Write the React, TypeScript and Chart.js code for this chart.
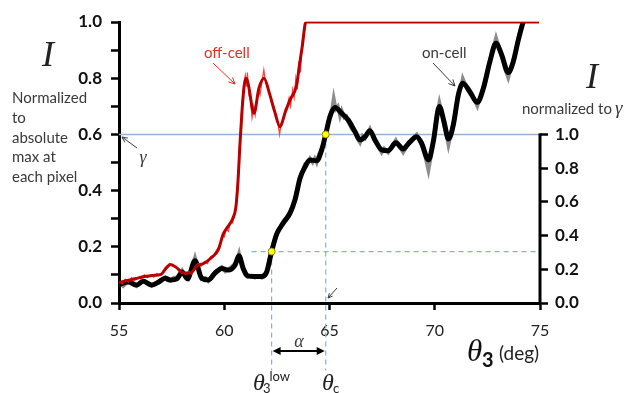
import React, { useEffect, useRef } from 'react';
import { Chart, registerables } from 'chart.js';

Chart.register(...registerables);

// ---- axes ----
const X_MIN = 55;
const X_MAX = 75;
const X_STEP = 5;
const LEFT_MAX = 1.0;
const LEFT_STEP = 0.1;
const GAMMA = 0.6; // threshold, right axis 1.0 == left 0.6
const RIGHT_TICKS = [0, 0.2, 0.4, 0.6, 0.8, 1.0];

// ---- markers ----
const THETA_LOW = 62.25;
const I_LOW = 0.183;
const THETA_C = 64.82;
const DASH_H_START = 61.3;
const DASH_BOTTOM = -0.24;

// ---- on-cell, smoothed (black) ----
const onX = [55.0, 55.44, 55.84, 56.15, 56.55, 56.87, 57.19, 57.45, 57.75, 58.0, 58.25, 58.61, 58.93, 59.24, 59.56, 59.88, 60.19, 60.51, 60.7, 60.9, 61.11, 61.46, 61.78, 62.02, 62.25, 62.49, 62.8, 63.12, 63.36, 63.6, 63.84, 64.07, 64.39, 64.63, 64.82, 65.02, 65.26, 65.58, 65.89, 66.21, 66.45, 66.69, 66.92, 67.16, 67.48, 67.79, 68.15, 68.5, 68.74, 69.14, 69.38, 69.7, 69.93, 70.22, 70.44, 70.65, 70.88, 71.12, 71.33, 71.67, 72.02, 72.31, 72.62, 72.91, 73.18, 73.49, 73.73, 73.97, 74.2, 74.35];
const onY = [0.066, 0.075, 0.064, 0.077, 0.064, 0.074, 0.088, 0.082, 0.086, 0.11, 0.086, 0.15, 0.088, 0.082, 0.106, 0.123, 0.117, 0.135, 0.168, 0.123, 0.097, 0.094, 0.094, 0.111, 0.183, 0.245, 0.284, 0.319, 0.367, 0.444, 0.485, 0.509, 0.506, 0.545, 0.6, 0.663, 0.696, 0.675, 0.651, 0.61, 0.58, 0.592, 0.613, 0.58, 0.545, 0.542, 0.57, 0.548, 0.566, 0.592, 0.568, 0.509, 0.574, 0.699, 0.645, 0.584, 0.633, 0.74, 0.782, 0.752, 0.714, 0.764, 0.859, 0.924, 0.883, 0.82, 0.859, 0.936, 1.0, 1.03];

// ---- on-cell, raw (gray) ----
const onRawX = [55.0, 55.2, 55.44, 55.65, 55.84, 56.0, 56.15, 56.35, 56.55, 56.7, 56.87, 57.05, 57.19, 57.3, 57.45, 57.6, 57.75, 57.9, 58.0, 58.13, 58.3, 58.45, 58.61, 58.75, 58.93, 59.1, 59.24, 59.4, 59.56, 59.7, 59.88, 60.05, 60.19, 60.35, 60.51, 60.6, 60.7, 60.8, 60.9, 61.0, 61.11, 61.3, 61.46, 61.6, 61.78, 61.9, 62.02, 62.12, 62.25, 62.37, 62.49, 62.65, 62.8, 62.95, 63.12, 63.24, 63.36, 63.5, 63.6, 63.72, 63.84, 63.95, 64.07, 64.2, 64.3, 64.39, 64.5, 64.63, 64.72, 64.82, 64.92, 65.02, 65.12, 65.2, 65.3, 65.4, 65.5, 65.58, 65.7, 65.8, 65.89, 66.05, 66.21, 66.33, 66.45, 66.57, 66.69, 66.8, 66.92, 67.05, 67.16, 67.3, 67.48, 67.6, 67.79, 67.95, 68.15, 68.3, 68.5, 68.62, 68.74, 68.9, 69.0, 69.14, 69.25, 69.38, 69.55, 69.7, 69.82, 69.93, 70.08, 70.22, 70.33, 70.44, 70.55, 70.65, 70.77, 70.88, 71.0, 71.12, 71.25, 71.33, 71.5, 71.67, 71.85, 72.02, 72.15, 72.31, 72.45, 72.62, 72.75, 72.91, 73.05, 73.18, 73.35, 73.49, 73.6, 73.73, 73.85, 73.97, 74.1, 74.2, 74.35];
const onRawY = [0.07, 0.06, 0.078, 0.07, 0.06, 0.072, 0.08, 0.07, 0.06, 0.07, 0.077, 0.085, 0.092, 0.08, 0.078, 0.09, 0.092, 0.1, 0.115, 0.095, 0.085, 0.12, 0.162, 0.125, 0.085, 0.09, 0.078, 0.095, 0.11, 0.118, 0.128, 0.112, 0.12, 0.13, 0.14, 0.155, 0.178, 0.14, 0.12, 0.1, 0.092, 0.098, 0.09, 0.097, 0.09, 0.1, 0.115, 0.15, 0.19, 0.22, 0.25, 0.265, 0.29, 0.305, 0.325, 0.345, 0.372, 0.41, 0.45, 0.47, 0.495, 0.5, 0.515, 0.5, 0.515, 0.5, 0.53, 0.55, 0.57, 0.6, 0.64, 0.67, 0.69, 0.73, 0.69, 0.7, 0.665, 0.685, 0.66, 0.665, 0.645, 0.62, 0.605, 0.585, 0.57, 0.595, 0.585, 0.6, 0.62, 0.595, 0.575, 0.56, 0.535, 0.55, 0.535, 0.555, 0.58, 0.56, 0.535, 0.55, 0.572, 0.575, 0.59, 0.6, 0.585, 0.56, 0.52, 0.47, 0.52, 0.58, 0.66, 0.715, 0.68, 0.63, 0.6, 0.56, 0.6, 0.64, 0.69, 0.75, 0.77, 0.8, 0.77, 0.745, 0.73, 0.7, 0.73, 0.77, 0.81, 0.865, 0.9, 0.945, 0.91, 0.875, 0.83, 0.8, 0.83, 0.865, 0.9, 0.945, 0.975, 1.0, 1.03];

// ---- off-cell, smoothed (dark red) ----
const offX = [55.0, 55.4, 55.8, 56.2, 56.6, 57.0, 57.25, 57.45, 57.75, 58.05, 58.4, 58.7, 59.0, 59.4, 59.72, 59.95, 60.2, 60.4, 60.55, 60.65, 60.75, 60.85, 60.95, 61.05, 61.15, 61.41, 61.65, 61.89, 62.15, 62.4, 62.65, 62.9, 63.12, 63.44, 63.56, 63.7, 63.88, 74.95];
const offY = [0.072, 0.08, 0.087, 0.094, 0.098, 0.102, 0.125, 0.137, 0.125, 0.107, 0.107, 0.132, 0.14, 0.162, 0.19, 0.245, 0.275, 0.3, 0.34, 0.43, 0.57, 0.69, 0.775, 0.8, 0.775, 0.675, 0.765, 0.8, 0.745, 0.68, 0.627, 0.68, 0.722, 0.776, 0.84, 0.91, 1.0, 1.0];

// ---- off-cell, raw (bright red) ----
const offRawX = [55.0, 55.15, 55.3, 55.45, 55.6, 55.75, 55.9, 56.05, 56.2, 56.35, 56.5, 56.65, 56.8, 56.95, 57.1, 57.25, 57.4, 57.55, 57.7, 57.85, 58.0, 58.15, 58.3, 58.45, 58.6, 58.75, 58.9, 59.05, 59.2, 59.35, 59.5, 59.65, 59.8, 59.9, 60.0, 60.1, 60.2, 60.3, 60.4, 60.5, 60.58, 60.65, 60.72, 60.8, 60.88, 60.95, 61.0, 61.05, 61.1, 61.17, 61.25, 61.32, 61.4, 61.47, 61.55, 61.62, 61.7, 61.8, 61.88, 61.95, 62.05, 62.15, 62.25, 62.35, 62.45, 62.55, 62.63, 62.7, 62.8, 62.9, 63.0, 63.08, 63.15, 63.25, 63.32, 63.4, 63.47, 63.55, 63.62, 63.7, 63.78, 63.88, 74.95];
const offRawY = [0.075, 0.068, 0.085, 0.075, 0.09, 0.08, 0.092, 0.085, 0.1, 0.09, 0.1, 0.092, 0.105, 0.098, 0.115, 0.13, 0.14, 0.13, 0.128, 0.115, 0.11, 0.102, 0.112, 0.104, 0.125, 0.14, 0.13, 0.145, 0.14, 0.165, 0.17, 0.19, 0.205, 0.24, 0.235, 0.265, 0.255, 0.29, 0.285, 0.32, 0.36, 0.44, 0.55, 0.66, 0.74, 0.79, 0.81, 0.77, 0.82, 0.74, 0.72, 0.66, 0.7, 0.67, 0.73, 0.76, 0.74, 0.79, 0.83, 0.79, 0.775, 0.74, 0.72, 0.7, 0.67, 0.64, 0.6, 0.64, 0.65, 0.69, 0.7, 0.73, 0.7, 0.76, 0.73, 0.8, 0.76, 0.86, 0.82, 0.93, 0.95, 1.0, 1.0];

const pts = (xs: number[], ys: number[]) => xs.map((x, i) => ({ x, y: ys[i] }));

const SANS = 'Lato';
const SERIF = '"Liberation Serif"';

function drawArrow(ctx: CanvasRenderingContext2D, x1: number, y1: number, x2: number, y2: number, color: string, width: number, head: number) {
  const ang = Math.atan2(y2 - y1, x2 - x1);
  ctx.save();
  ctx.strokeStyle = color;
  ctx.lineWidth = width;
  ctx.setLineDash([]);
  ctx.beginPath();
  ctx.moveTo(x1, y1);
  ctx.lineTo(x2, y2);
  ctx.moveTo(x2 - head * Math.cos(ang - 0.45), y2 - head * Math.sin(ang - 0.45));
  ctx.lineTo(x2, y2);
  ctx.lineTo(x2 - head * Math.cos(ang + 0.45), y2 - head * Math.sin(ang + 0.45));
  ctx.stroke();
  ctx.restore();
}

function txt(ctx: CanvasRenderingContext2D, s: string, x: number, y: number, font: string, color: string, align: CanvasTextAlign = 'left', base: CanvasTextBaseline = 'alphabetic') {
  ctx.font = font;
  ctx.fillStyle = color;
  ctx.textAlign = align;
  ctx.textBaseline = base;
  ctx.fillText(s, x, y);
}

const overlay = {
  id: 'overlay',
  beforeDatasetsDraw(chart: any) {
    const { ctx, chartArea: a, scales } = chart;
    const xs = scales.x, ys = scales.y;
    ctx.save();
    // gamma line
    const yg = ys.getPixelForValue(GAMMA);
    ctx.strokeStyle = '#95b3d7';
    ctx.lineWidth = 1.5;
    ctx.beginPath();
    ctx.moveTo(a.left, yg);
    ctx.lineTo(a.right, yg);
    ctx.stroke();
    // dashed guides
    ctx.setLineDash([5, 4]);
    ctx.strokeStyle = '#86aee0';
    ctx.lineWidth = 1.2;
    const yl = ys.getPixelForValue(I_LOW);
    const yb = ys.getPixelForValue(DASH_BOTTOM);
    const xl = xs.getPixelForValue(THETA_LOW);
    const xc = xs.getPixelForValue(THETA_C);
    ctx.beginPath();
    ctx.moveTo(xs.getPixelForValue(DASH_H_START), yl);
    ctx.lineTo(a.right, yl);
    ctx.moveTo(xl, yl);
    ctx.lineTo(xl, yb);
    ctx.moveTo(xc, yg);
    ctx.lineTo(xc, yb);
    ctx.stroke();
    ctx.restore();
  },
  afterDatasetsDraw(chart: any) {
    const { ctx, chartArea: a, scales } = chart;
    const xs = scales.x, ys = scales.y, y2 = scales.y2;
    ctx.save();
    // right axis line (only 0..1)
    ctx.strokeStyle = '#000';
    ctx.lineWidth = 3;
    ctx.beginPath();
    ctx.moveTo(a.right, y2.getPixelForValue(0) + 1.5);
    ctx.lineTo(a.right, y2.getPixelForValue(1.0) - 1);
    ctx.stroke();
    // yellow dots
    const dots = [[THETA_LOW, I_LOW], [THETA_C, GAMMA]];
    for (const [tx, ty] of dots) {
      ctx.beginPath();
      ctx.arc(xs.getPixelForValue(tx), ys.getPixelForValue(ty), 3.5, 0, Math.PI * 2);
      ctx.fillStyle = '#ffff00';
      ctx.fill();
      ctx.strokeStyle = '#8a8a00';
      ctx.lineWidth = 1;
      ctx.stroke();
    }
    ctx.restore();
  },
  afterDraw(chart: any) {
    const { ctx, scales } = chart;
    const xs = scales.x;
    ctx.save();
    // left axis title
    txt(ctx, 'I', 48, 66, `italic 36px ${SERIF}`, '#222', 'center');
    const lines = ['Normalized', 'to', 'absolute', 'max at', 'each pixel'];
    const ly = [103, 123, 143, 162, 182];
    lines.forEach((l, i) => txt(ctx, l, 12, ly[i], `15px ${SANS}`, '#3a3a3a'));
    // right axis title
    txt(ctx, 'I', 592, 88, `italic 36px ${SERIF}`, '#222', 'center');
    txt(ctx, 'normalized to', 522, 114, `15px ${SANS}`, '#3a3a3a');
    txt(ctx, 'γ', 615, 114, `italic 19px ${SERIF}`, '#3a3a3a');
    // series labels
    txt(ctx, 'off-cell', 204, 53, `15px ${SANS}`, '#e0302a', 'left', 'middle');
    drawArrow(ctx, 213, 63, 235, 84, '#e0302a', 1, 7);
    txt(ctx, 'on-cell', 422, 53, `15px ${SANS}`, '#3a3a3a', 'left', 'middle');
    drawArrow(ctx, 433, 63, 455, 86, '#3a3a3a', 1, 7);
    // gamma pointer
    drawArrow(ctx, 137, 148, 122, 137, '#3a3a3a', 1, 6);
    txt(ctx, 'γ', 143, 163, `italic 18px ${SERIF}`, '#3a3a3a', 'center');
    // theta_c pointer
    drawArrow(ctx, 337, 288, 328, 298, '#3a3a3a', 1, 5);
    // alpha double arrow
    const xl = xs.getPixelForValue(THETA_LOW) + 1;
    const xc = xs.getPixelForValue(THETA_C) - 1;
    const ay = 351;
    ctx.strokeStyle = '#000';
    ctx.fillStyle = '#000';
    ctx.lineWidth = 2;
    ctx.beginPath();
    ctx.moveTo(xl + 6, ay);
    ctx.lineTo(xc - 6, ay);
    ctx.stroke();
    ctx.beginPath();
    ctx.moveTo(xl, ay); ctx.lineTo(xl + 8, ay - 4); ctx.lineTo(xl + 8, ay + 4); ctx.closePath();
    ctx.moveTo(xc, ay); ctx.lineTo(xc - 8, ay - 4); ctx.lineTo(xc - 8, ay + 4); ctx.closePath();
    ctx.fill();
    txt(ctx, 'α', 299, 347, `italic 18px ${SERIF}`, '#3a3a3a', 'center');
    // x axis title
    txt(ctx, 'θ', 467, 361, `italic 31px ${SERIF}`, '#111');
    txt(ctx, '3', 482, 367, `bold 20px ${SANS}`, '#111');
    txt(ctx, '(deg)', 499, 360, `19px ${SANS}`, '#222');
    // theta_3 low and theta_c labels
    txt(ctx, 'θ', 253, 390, `italic 24px ${SERIF}`, '#222');
    txt(ctx, '3', 263, 393, `13px ${SANS}`, '#222');
    txt(ctx, 'low', 269.5, 381, `13px ${SANS}`, '#222');
    txt(ctx, 'θ', 322, 390, `italic 24px ${SERIF}`, '#222');
    txt(ctx, 'c', 333, 393, `13px ${SANS}`, '#222');
    ctx.restore();
  },
};

export default function App() {
  const ref = useRef<HTMLCanvasElement>(null);
  useEffect(() => {
    if (!ref.current) return;
    const chart = new Chart(ref.current, {
      type: 'line',
      data: {
        datasets: [
          {
            label: 'off-cell',
            data: pts(offX, offY),
            borderColor: '#b80000',
            borderWidth: 3,
            pointRadius: 0,
            cubicInterpolationMode: 'monotone',
          },
          {
            label: 'off-cell raw',
            data: pts(offRawX, offRawY),
            borderColor: '#ff3b3b',
            borderWidth: 1.2,
            pointRadius: 0,
            tension: 0,
            clip: false,
          },
          {
            label: 'on-cell',
            data: pts(onX, onY),
            borderColor: '#000000',
            borderWidth: 5,
            pointRadius: 0,
            cubicInterpolationMode: 'monotone',
          },
          {
            label: 'on-cell raw',
            data: pts(onRawX, onRawY),
            borderColor: '#8c8c8c',
            borderWidth: 3.5,
            pointRadius: 0,
            tension: 0,
          },
        ],
      },
      options: {
        animation: false,
        responsive: false,
        events: [],
        layout: { padding: { top: 22, left: 0, right: 0, bottom: 0 } },
        plugins: { legend: { display: false }, tooltip: { enabled: false } },
        scales: {
          x: {
            type: 'linear',
            min: X_MIN,
            max: X_MAX,
            afterFit: (s: any) => { s.height = 90; },
            ticks: { stepSize: X_STEP, color: '#222', font: { family: SANS, size: 16 }, padding: 11 },
            grid: { drawOnChartArea: false, drawTicks: true, tickLength: 7, tickWidth: 2.5, tickColor: '#000' },
            border: { display: true, color: '#000', width: 3 },
          },
          y: {
            position: 'left',
            min: 0,
            max: LEFT_MAX,
            afterFit: (s: any) => { s.width = 119; },
            ticks: {
              stepSize: LEFT_STEP,
              color: '#111',
              font: { family: SANS, size: 17, weight: 'bold' },
              padding: 9,
              callback: (v: any) => (Math.round(Number(v) * 10) % 2 === 0 ? Number(v).toFixed(1) : ''),
            },
            grid: { drawOnChartArea: false, drawTicks: true, tickLength: 8, tickWidth: 2.5, tickColor: '#000' },
            border: { display: true, color: '#000', width: 3 },
          },
          y2: {
            position: 'right',
            min: 0,
            max: 1 / GAMMA,
            afterFit: (s: any) => { s.width = 89; },
            afterBuildTicks: (s: any) => { s.ticks = RIGHT_TICKS.map((v) => ({ value: v })); },
            ticks: {
              color: '#111',
              font: { family: SANS, size: 17, weight: 'bold' },
              padding: 7,
              callback: (v: any) => Number(v).toFixed(1),
            },
            grid: { drawOnChartArea: false, drawTicks: true, tickLength: 8, tickWidth: 2.5, tickColor: '#000' },
            border: { display: false },
          },
        },
      } as any,
      plugins: [overlay],
    });
    return () => chart.destroy();
  }, []);
  return (
    <canvas
      ref={ref}
      width={629}
      height={393}
      style={{ position: 'fixed', left: 0, top: 0, width: 629, height: 393, background: '#fff' }}
    />
  );
}
